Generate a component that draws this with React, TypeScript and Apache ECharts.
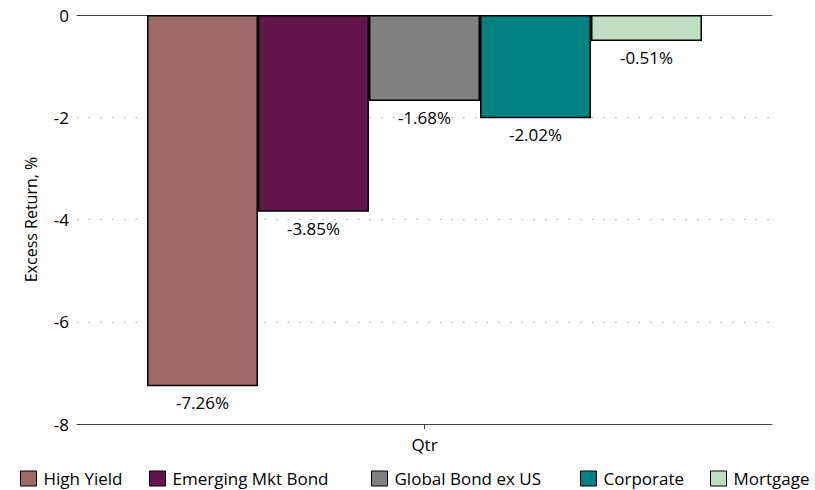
import React, { useEffect, useRef } from "react";
import * as echarts from "echarts";

const categories = ["Qtr"];
const seriesNames = ["High Yield", "Emerging Mkt Bond", "Global Bond ex US", "Corporate", "Mortgage"];
const seriesValues = [-7.26, -3.85, -1.68, -2.02, -0.51];
const seriesColors = ["#9C6A66", "#63144A", "#808080", "#008080", "#C0DFC2"];
const yTicks = { min: -8, max: 0, interval: 2 };
const legendLefts = [15, 144, 366, 575, 705];

const FONT = "'Open Sans', 'Liberation Sans', sans-serif";

export default function App() {
  const ref = useRef<HTMLDivElement>(null);
  useEffect(() => {
    if (!ref.current) return;
    const chart = echarts.init(ref.current, null, { renderer: "svg" });
    chart.setOption({
      animation: false,
      textStyle: { fontFamily: FONT },
      grid: { left: 77, right: 43, top: 15, bottom: 66 },
      legend: seriesNames.map((name, i) => ({
        bottom: -2,
        left: legendLefts[i],
        itemWidth: 16,
        itemHeight: 15,
        itemGap: 0,
        icon: "rect",
        itemStyle: { borderColor: "#000", borderWidth: 1 },
        textStyle: { fontSize: 17, color: "#000", fontFamily: FONT, padding: [0, 0, 0, 2] },
        data: [name],
      })),
      xAxis: [
        {
          type: "category",
          data: categories,
          position: "bottom",
          axisLine: { onZero: false, lineStyle: { color: "#444", width: 1 } },
          axisTick: { show: true, alignWithLabel: true, length: 5, lineStyle: { color: "#444" } },
          axisLabel: { fontSize: 17, color: "#000", margin: 12, fontFamily: FONT },
        },
        {
          type: "category",
          data: categories,
          position: "top",
          axisLine: { show: true, onZero: false, lineStyle: { color: "#444", width: 1 } },
          axisTick: { show: false },
          axisLabel: { show: false },
        },
      ],
      yAxis: {
        type: "value",
        min: yTicks.min,
        max: yTicks.max,
        interval: yTicks.interval,
        name: "Excess Return, %",
        nameLocation: "middle",
        nameGap: 38,
        nameTextStyle: { fontSize: 16, color: "#000", fontFamily: FONT },
        axisLine: { show: false },
        axisTick: { show: false },
        axisLabel: { fontSize: 17, color: "#000", margin: 8, fontFamily: FONT },
        splitLine: { show: true, lineStyle: { type: [1.5, 10.2], color: "#aaa", width: 1 } },
      },
      series: seriesNames.map((name, i) => ({
        name,
        type: "bar",
        xAxisIndex: 0,
        barWidth: 111,
        barGap: "0%",
        data: [seriesValues[i]],
        itemStyle: { color: seriesColors[i], borderColor: "#000", borderWidth: 1.5 },
        label: {
          show: true,
          position: "bottom",
          distance: 8,
          fontSize: 17,
          color: "#000",
          fontFamily: FONT,
          formatter: (p: any) => `${p.value.toFixed(2)}%`,
        },
      })),
    });
    return () => chart.dispose();
  }, []);
  return (
    <div style={{ position: "absolute", left: 0, top: 0 }}>
      <div ref={ref} style={{ width: 815, height: 490 }} />
    </div>
  );
}
